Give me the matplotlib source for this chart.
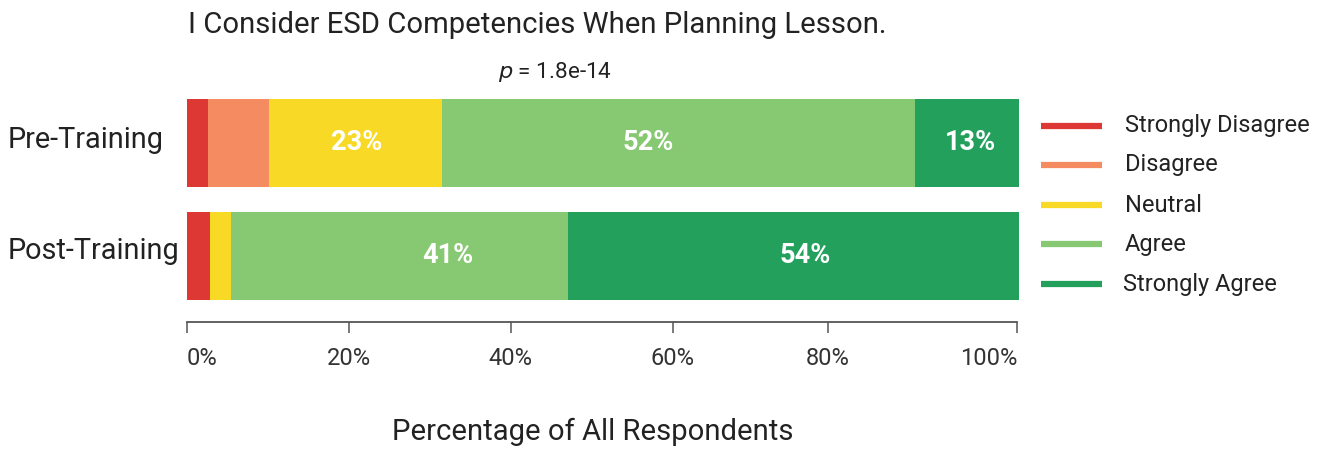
import matplotlib
matplotlib.use("Agg")
import matplotlib.pyplot as plt
from matplotlib.lines import Line2D

plt.rcParams['font.family'] = ['Roboto', 'DejaVu Sans']

# ---- data ----
groups = ["Pre-Training", "Post-Training"]
responses = ["Strongly Disagree", "Disagree", "Neutral", "Agree", "Strongly Agree"]
pre_values = [2.5, 7.3, 20.8, 56.9, 12.5]
post_values = [2.8, 0.0, 2.5, 40.5, 54.2]
pre_labels = ["", "", "23%", "52%", "13%"]
post_labels = ["", "", "", "41%", "54%"]
pre_label_x = [None, None, 20.4, 55.4, 94.1]
post_label_x = [None, None, None, 31.4, 74.3]
tick_pos = [0, 19.5, 38.9, 58.4, 77.0, 99.8]
tick_labels = ["0%", "20%", "40%", "60%", "80%", "100%"]
title = "I Consider ESD Competencies When Planning Lesson."
p_text = r"$\it{p}$ = 1.8e-14"
xlabel = "Percentage of All Respondents"

colors = ["#DD3833", "#F58C61", "#F7D926", "#87C872", "#24A05D"]
text_col = "#222222"

W, H = 1325, 451
fig = plt.figure(figsize=(W / 100, H / 100), dpi=100)
ax = fig.add_axes([187 / W, 1 - 322 / H, (1019 - 187) / W, (322 - 99) / H])

rows = [(1, pre_values, pre_labels, pre_label_x), (0, post_values, post_labels, post_label_x)]
for y, vals, labs, lx in rows:
    left = 0
    for v, c, lab, x in zip(vals, colors, labs, lx):
        ax.barh(y, v, left=left, height=0.78, color=c, linewidth=0)
        if lab:
            ax.text(x, y, lab, ha="center", va="center", color="white",
                    fontsize=19.5, fontweight="bold")
        left += v

ax.set_xlim(0, 100)
ax.set_ylim(-0.584, 1.389)
ax.set_yticks([1, 0])
ax.set_yticklabels([])
ax.tick_params(axis="y", length=0)
for yy, g in zip([140, 251], groups):
    fig.text(8 / W, 1 - yy / H, g, fontsize=20.8, color=text_col, ha="left", va="center")
for s in ["top", "right", "left"]:
    ax.spines[s].set_visible(False)
ax.spines["bottom"].set_color("#555555")
ax.spines["bottom"].set_linewidth(1.3)
ax.spines["bottom"].set_bounds(0, 99.8)
ax.set_xticks(tick_pos)
ax.set_xticklabels(tick_labels, fontsize=17, color="#333333")
ax.tick_params(axis="x", length=8, width=1.1, color="#555555", pad=10)
xt = ax.get_xticklabels()
xt[0].set_ha("left")
xt[-1].set_ha("right")

fig.text(188 / W, 1 - 25 / H, title, fontsize=21.1, color=text_col, ha="left", va="center")
fig.text(555 / W, 1 - 72 / H, p_text, fontsize=16.2, color=text_col, ha="center", va="center")
fig.text(593 / W, 1 - 432 / H, xlabel, fontsize=21.1, color=text_col, ha="center", va="center")

# legend
leg_y = [126, 165, 205, 244, 284]
leg_x = [1125, 1125, 1125, 1125, 1123]
for c, lab, yy, xx in zip(colors, responses, leg_y, leg_x):
    fig.add_artist(Line2D([1041 / W, 1102 / W], [1 - yy / H, 1 - yy / H], color=c,
                          linewidth=4.5, solid_capstyle="butt"))
    fig.text(xx / W, 1 - yy / H, lab, fontsize=17, color=text_col, ha="left", va="center")

fig.savefig("out.png", dpi=100)
